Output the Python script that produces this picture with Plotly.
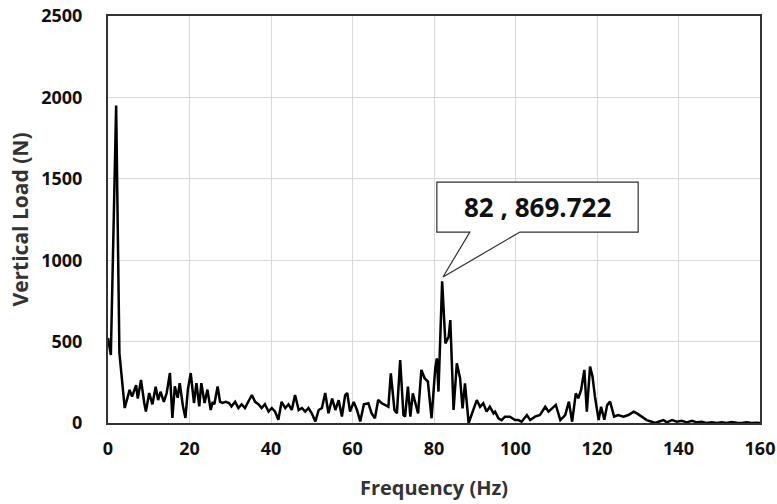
import plotly.graph_objects as go

# Frequency (Hz) and vertical load (N)
freq = [0, 0.7, 2.0, 2.8, 4.1, 5.3, 5.9, 6.9, 7.3, 8.1, 8.9, 9.3, 10.1, 10.9, 11.7,
        12.3, 12.9, 13.7, 14.4, 15.2, 15.8, 16.4, 17.1, 17.6, 18.4, 19.0, 19.6, 20.3,
        21.1, 21.7, 22.4, 22.9, 23.7, 24.4, 25.2, 25.7, 26.1, 26.9, 27.5, 28.1, 28.9,
        29.7, 30.3, 31.2, 32.0, 32.8, 33.6, 34.4, 35.3, 36.1, 36.9, 37.7, 38.5, 39.4,
        40.2, 41.0, 41.8, 42.6, 43.5, 44.3, 45.1, 45.9, 46.8, 47.6, 48.4, 49.2, 50.0,
        50.9, 51.7, 52.5, 53.3, 54.1, 55.0, 55.8, 56.6, 57.4, 58.2, 58.7, 59.4, 60.3,
        61.1, 61.9, 62.8, 63.9, 64.7, 65.5, 66.3, 67.2, 68.0, 68.8, 69.4, 70.3, 70.9,
        71.7, 72.5, 72.9, 73.6, 74.2, 74.8, 75.4, 76.1, 76.9, 77.7, 78.5, 79.4, 80.3,
        80.7, 81.1, 82.0, 82.8, 83.6, 84.0, 84.8, 85.6, 86.4, 87.0, 87.6, 88.5, 89.3,
        90.5, 91.3, 92.1, 92.9, 93.7, 94.6, 95.0, 95.8, 96.6, 97.4, 98.6, 99.9, 100.7,
        101.5, 102.8, 103.6, 104.8, 106.0, 107.3, 108.1, 108.9, 109.9, 111.0, 112.2,
        113.1, 113.9, 114.8, 115.4, 116.1, 116.9, 117.5, 118.3, 118.9, 119.5, 120.4,
        121.0, 121.8, 122.5, 123.2, 124.2, 125.2, 126.5, 127.7, 129.0, 129.8, 131.0,
        132.2, 133.4, 134.3, 135.1, 136.3, 137.1, 138.4, 139.6, 140.8, 142.0, 143.3,
        144.5, 145.7, 146.9, 148.2, 149.4, 150.6, 151.8, 153.0, 154.3, 155.5, 156.7,
        158.0, 159.2, 160.0]
load = [522, 418, 1950, 430, 92, 203, 162, 233, 150, 264, 123, 70, 184, 115, 223,
        141, 192, 130, 184, 307, 31, 225, 155, 245, 102, 31, 205, 307,
        123, 245, 102, 245, 123, 205, 80, 130, 115, 225, 130, 123, 130,
        123, 102, 130, 92, 115, 92, 130, 172, 130, 115, 92, 115, 70,
        92, 70, 20, 130, 92, 115, 80, 172, 80, 92, 70, 92, 60,
        10, 80, 92, 184, 60, 150, 80, 140, 40, 172, 184, 70, 130,
        80, 10, 115, 121, 59, 29, 141, 121, 111, 100, 305, 80, 59,
        387, 49, 39, 223, 39, 182, 131, 59, 326, 275, 254, 29, 336,
        397, 193, 870, 489, 530, 632, 80, 367, 275, 90, 244, 0, 59,
        141, 100, 121, 70, 100, 59, 70, 29, 18, 39, 39, 18, 18,
        8, 49, 18, 39, 49, 100, 70, 90, 111, 18, 49,
        131, 8, 182, 152, 203, 326, 70, 346, 285, 162, 18,
        100, 20, 110, 131, 39, 49, 39, 49, 70, 59, 39,
        18, 8, 0, 8, 18, 4, 18, 8, 14, 4, 14,
        4, 8, 0, 4, 0, 4, 0, 6, 2, 0, 4,
        0, 2, 0]

peak_f = 82
peak_v = 869.722
label_text = "82 , 869.722"

fig = go.Figure()
fig.add_trace(go.Scatter(x=freq, y=load, mode="lines",
                         line=dict(color="black", width=2.5), showlegend=False))

# Callout box with pointer to the peak (derived from the peak value)
bx0, bx1 = peak_f - 1.3, peak_f + 48.1
by0, by1 = peak_v + 303, peak_v + 610
px0, px1 = peak_f + 6.8, peak_f + 19.1
tip_y = peak_v + 27
path = (f"M {bx0},{by1} L {bx1},{by1} L {bx1},{by0} L {px1},{by0} "
        f"L {peak_f + 0.2},{tip_y} L {px0},{by0} L {bx0},{by0} Z")
fig.add_shape(type="path", path=path, xref="x", yref="y",
              fillcolor="white", line=dict(color="#303030", width=1.2))
fig.add_annotation(x=(bx0 + bx1) / 2, y=(by0 + by1) / 2, xref="x", yref="y",
                   text=label_text, showarrow=False,
                   font=dict(size=26, color="#111111", family="Open Sans", weight="bold"))

axis_font = dict(size=18, color="#111111", family="Open Sans", weight="bold")
xtitle_font = dict(size=20, color="#333333", family="Open Sans", weight="bold")
ytitle_font = dict(size=21, color="#333333", family="Open Sans", weight="bold")
fig.update_layout(
    width=777, height=504,
    margin=dict(l=108, r=17, t=16, b=81, autoexpand=False),
    paper_bgcolor="white", plot_bgcolor="white",
    xaxis=dict(range=[0, 160], dtick=20, tick0=0, automargin=False,
               showgrid=True, gridcolor="#d9d9d9", gridwidth=1,
               showline=True, linecolor="#333333", linewidth=2, mirror=True,
               ticks="", zeroline=False, tickfont=axis_font, ticklabelstandoff=8,
               ticklabeloverflow="allow",
               title=dict(text="Frequency (Hz)", font=xtitle_font, standoff=22)),
    yaxis=dict(range=[0, 2500], dtick=500, tick0=0, automargin=False,
               showgrid=True, gridcolor="#d9d9d9", gridwidth=1,
               showline=True, linecolor="#333333", linewidth=2, mirror=True,
               ticks="", zeroline=False, tickfont=axis_font, ticklabelstandoff=20,
               ticklabeloverflow="allow",
               title=dict(text="Vertical Load (N)", font=ytitle_font, standoff=7)),
)

fig.write_html(
    "out.html",
    config={"displayModeBar": False},
    post_script="document.body.style.margin='0px';document.body.style.overflow='hidden';",
)
